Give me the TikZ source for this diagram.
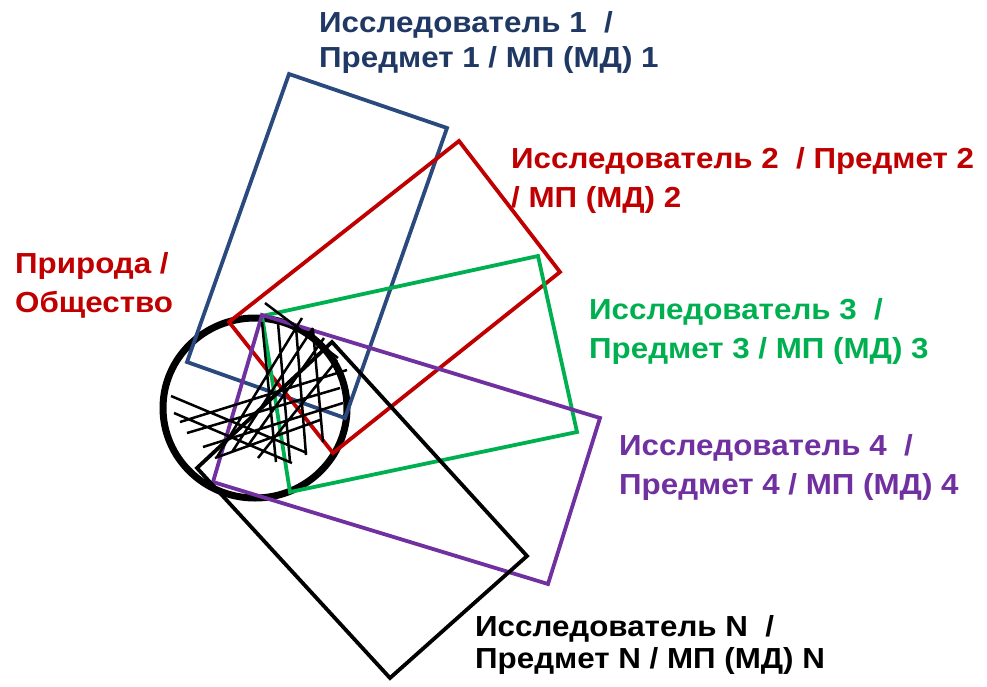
\documentclass[tikz,border=0pt]{standalone}
\usepackage{fontspec}
\setmainfont{Liberation Sans}[FakeStretch=1.08]
\usepackage{xcolor}
\definecolor{blueR}{HTML}{2A4A7E}
\definecolor{blueT}{HTML}{1F3864}
\definecolor{redR}{HTML}{C00000}
\definecolor{greenR}{HTML}{00B050}
\definecolor{purpleR}{HTML}{7030A0}
\tikzset{lbl/.style={anchor=base west, align=left, inner sep=0pt,
   font=\bfseries\fontsize{29}{39}\selectfont},
 frame/.style={line width=3.8pt, line join=miter},
 hatch/.style={line width=2.5pt, black},
 }

\begin{document}
\begin{tikzpicture}[x=1pt, y=-1pt]
        \useasboundingbox (0,0) rectangle (987,686);
        \draw[line width=7pt] (255,408) ellipse [x radius=92, y radius=90];
        \draw[frame, blueR] (289,74) -- (447,128) -- (345,418) -- (187,362) -- cycle;
        \draw[frame, redR] (459,141) -- (560,272) -- (333,453) -- (229,322) -- cycle;
        \draw[frame, greenR] (262,316) -- (538,256) -- (577,432) -- (290,492) -- cycle;
        \draw[frame, purpleR] (262,315) -- (600,418) -- (548,584) -- (213,482) -- cycle;
        \draw[frame, black] (332,342) -- (527,556) -- (390,678) -- (197,468) -- cycle;
        % lines inside the circle
        \draw[hatch] (262,322) -- (276,462)  (278,323) -- (290,462)
              (296,327) -- (306,455)  (313,330) -- (323,442)
              (217,457) -- (302,318)  (232,452) -- (313,328)
              (247,447) -- (324,338)  (258,458) -- (337,360)
              (180,422) -- (347,370)  (187,433) -- (340,388)
              (203,447) -- (343,403)  (215,458) -- (320,420)
              (171,396) -- (307,453)  (174,413) -- (292,463)
              (265,303) -- (338,358);
        \node[lbl, text=redR] (nature) at (15,312) {Природа /\\Общество};
        \node[lbl, text=blueT] (res1) at (319,67) {Исследователь 1~ /\\[-4pt]Предмет 1 / МП (МД) 1};
        \node[lbl, text=redR] (res2) at (511,207) {Исследователь 2~ / Предмет 2\\/ МП (МД) 2};
        \node[lbl, text=greenR] (res3) at (589,358) {Исследователь 3~ /\\Предмет 3 / МП (МД) 3};
        \node[lbl, text=purpleR] (res4) at (619,494) {Исследователь 4~ /\\Предмет 4 / МП (МД) 4};
        \node[lbl, text=black] (resN) at (475,668) {Исследователь N~ /\\[-7pt]Предмет N / МП (МД) N};
    \end{tikzpicture}
\end{document}
